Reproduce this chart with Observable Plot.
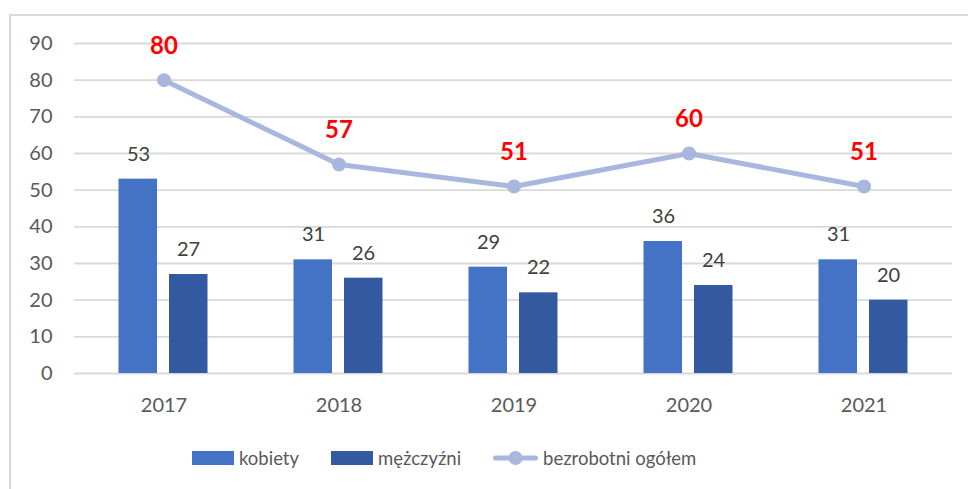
<!DOCTYPE html>
<html>
<head>
<meta charset="utf-8">
<script src="https://cdn.jsdelivr.net/npm/d3@7"></script>
<script src="https://cdn.jsdelivr.net/npm/@observablehq/plot@0.6"></script>
<style>
  body { margin: 0; background: #fff; width: 968px; height: 489px; overflow: hidden; position: relative; font-family: Lato, sans-serif; }
  #frame { position: absolute; left: 9px; top: 14px; width: 1000px; height: 520px; border: 2px solid #d9d9d9; box-sizing: border-box; }
  #chart { position: absolute; left: 0; top: 0; }
  #legend { position: absolute; left: 192px; top: 447px; display: flex; align-items: center; gap: 32px; font-size: 18.5px; color: #595959; }
  .item { display: flex; align-items: center; gap: 5px; }
  .sw { width: 42px; height: 14px; }
</style>
</head>
<body>
<div id="frame"></div>
<div id="chart"></div>
<div id="legend"></div>
<script>
const years = ["2017", "2018", "2019", "2020", "2021"];
const kobiety = [53, 31, 29, 36, 31];
const mezczyzni = [27, 26, 22, 24, 20];
const ogolem = [80, 57, 51, 60, 51];
const seriesNames = ["kobiety", "mężczyźni", "bezrobotni ogółem"];
const yTicks = [0, 10, 20, 30, 40, 50, 60, 70, 80, 90];

const colK = "#4472C4", colM = "#335AA1", colL = "#A9B7DE";

const dK = years.map((y, i) => ({year: y, value: kobiety[i]}));
const dM = years.map((y, i) => ({year: y, value: mezczyzni[i]}));
const dL = years.map((y, i) => ({year: y, value: ogolem[i]}));

const chart = Plot.plot({
  width: 968,
  height: 420,
  marginLeft: 74,
  marginRight: 16,
  marginTop: 43,
  marginBottom: 47,
  style: {fontFamily: "Lato, sans-serif", fontSize: "20px", color: "#595959", background: "transparent"},
  x: {type: "band", domain: years, padding: 0, label: null, tickSize: 0, tickPadding: 24},
  y: {domain: [0, 90], ticks: yTicks, label: null, tickSize: 0, tickPadding: 22},
  marks: [
    Plot.ruleY(yTicks, {stroke: "#d9d9d9", strokeWidth: 1.8}),
    Plot.barY(dK, {x: "year", y: "value", fill: colK, insetLeft: 42.5, insetRight: 94}),
    Plot.barY(dM, {x: "year", y: "value", fill: colM, insetLeft: 93, insetRight: 43.5}),
    Plot.text(dK, {x: "year", y: "value", text: d => String(d.value), dx: -25.5, dy: -25, lineAnchor: "middle", fill: "#404040", fontSize: 20}),
    Plot.text(dM, {x: "year", y: "value", text: d => String(d.value), dx: 24.5, dy: -25, lineAnchor: "middle", fill: "#404040", fontSize: 20}),
    Plot.line(dL, {x: "year", y: "value", stroke: colL, strokeWidth: 5}),
    Plot.dot(dL, {x: "year", y: "value", r: 7, fill: colL, stroke: "none"}),
    Plot.text(dL, {x: "year", y: "value", text: d => String(d.value), dy: -34, lineAnchor: "middle", fill: "#FF0000", fontWeight: "bold", fontSize: 24})
  ]
});
document.getElementById("chart").appendChild(chart);

const legend = document.getElementById("legend");
const swatches = [
  `<div class="sw" style="background:${colK}"></div>`,
  `<div class="sw" style="background:${colM}"></div>`,
  `<svg width="45" height="16"><line x1="2.5" x2="42.5" y1="8" y2="8" stroke="${colL}" stroke-width="5" stroke-linecap="round"/><circle cx="22.5" cy="8" r="7" fill="${colL}"/></svg>`
];
seriesNames.forEach((name, i) => {
  const it = document.createElement("div");
  it.className = "item";
  it.innerHTML = swatches[i] + `<span>${name}</span>`;
  legend.appendChild(it);
});
</script>
</body>
</html>
